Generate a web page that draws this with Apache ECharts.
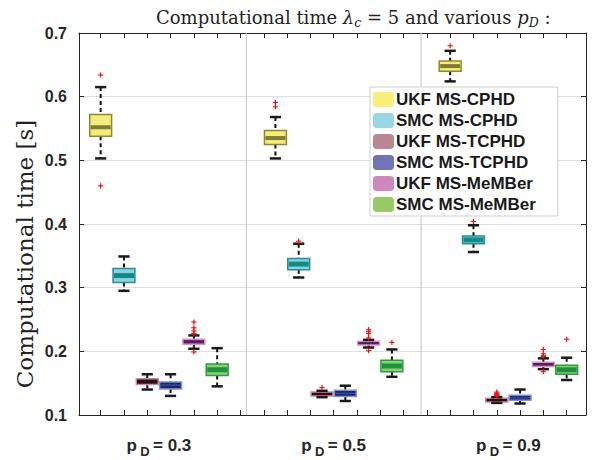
<!DOCTYPE html>
<html>
<head>
<meta charset="utf-8">
<script src="https://cdn.jsdelivr.net/npm/echarts@6/dist/echarts.min.js"></script>
<style>html,body{margin:0;padding:0;background:#fff;}#c{width:597px;height:460px;}</style>
</head>
<body>
<div id="c"></div>
<script>
// ---- data ----
const groupLabels = ['0.3', '0.5', '0.9'];
const methods = ['UKF MS-CPHD', 'SMC MS-CPHD', 'UKF MS-TCPHD', 'SMC MS-TCPHD', 'UKF MS-MeMBer', 'SMC MS-MeMBer'];
// each box: [lowerWhisker, q1, median, q3, upperWhisker], one per p_D group
const ukfCphd   = [[0.503, 0.538, 0.552, 0.572, 0.615], [0.503, 0.525, 0.535, 0.547, 0.568], [0.624, 0.640, 0.648, 0.656, 0.672]];
const smcCphd   = [[0.295, 0.308, 0.319, 0.330, 0.349], [0.316, 0.328, 0.337, 0.346, 0.369], [0.356, 0.369, 0.375, 0.381, 0.398]];
const ukfTcphd  = [[0.140, 0.148, 0.152, 0.157, 0.164], [0.128, 0.130, 0.133, 0.136, 0.138], [0.119, 0.1205, 0.1235, 0.1265, 0.128]];
const smcTcphd  = [[0.130, 0.141, 0.147, 0.152, 0.164], [0.122, 0.129, 0.134, 0.139, 0.146], [0.118, 0.123, 0.127, 0.131, 0.140]];
const ukfMember = [[0.204, 0.211, 0.215, 0.219, 0.225], [0.206, 0.210, 0.213, 0.216, 0.218], [0.172, 0.176, 0.180, 0.183, 0.189]];
const smcMember = [[0.145, 0.162, 0.171, 0.180, 0.205], [0.160, 0.168, 0.177, 0.186, 0.203], [0.155, 0.164, 0.171, 0.178, 0.190]];
// outliers per method, per group
const ukfCphdOut   = [[0.634, 0.460], [0.591, 0.584], [0.680]];
const smcCphdOut   = [[], [0.373], [0.404]];
const ukfTcphdOut  = [[], [0.143], [0.136, 0.134, 0.133, 0.132, 0.131, 0.130]];
const smcTcphdOut  = [[], [], []];
const ukfMemberOut = [[0.246, 0.237, 0.232, 0.228, 0.199], [0.234, 0.231, 0.228, 0.221, 0.201], [0.203, 0.196, 0.193, 0.192, 0.168]];
const smcMemberOut = [[], [0.214], [0.219]];
const yTicks = [0.1, 0.2, 0.3, 0.4, 0.5, 0.6, 0.7];

// ---- styles / layout ----
const boxes = [ukfCphd, smcCphd, ukfTcphd, smcTcphd, ukfMember, smcMember];
const outs = [ukfCphdOut, smcCphdOut, ukfTcphdOut, smcTcphdOut, ukfMemberOut, smcMemberOut];
const legendColors = ['#f8f07a', '#98d8e4', '#bb8793', '#7272b6', '#cd88bc', '#97c966'];
const boxStyles = [
  {fill: '#f4ec7e', border: '#8c8a2c', band: '#7e7c35', bw: 4},
  {fill: '#8ed2de', border: '#2a8d92', band: '#118a8c', bw: 5},
  {fill: '#2e0f1b', border: '#c38b99', band: '#2a0c17', bw: 2},
  {fill: '#1b2470', border: '#8593cc', band: '#4a5aa8', bw: 1},
  {fill: '#6b2773', border: '#d592c6', band: '#5a1f60', bw: 2},
  {fill: '#92d06e', border: '#2b9a4e', band: '#1b9142', bw: 5}
];
const groupStart = [1, 8.5, 16];
const BOX_W = 0.94, CAP_W = 0.48;
const ink = '#262626';
const serif = '"DejaVu Serif", "Liberation Serif", serif';
const sans = '"Liberation Sans", Arial, Helvetica, sans-serif';

const chart = echarts.init(document.getElementById('c'), null, {renderer: 'svg'});

function boxRender(mi) {
  const st = boxStyles[mi];
  return function (params, api) {
    const x = api.value(0);
    const lo = api.value(1), q1 = api.value(2), md = api.value(3), q3 = api.value(4), hi = api.value(5);
    const cx = api.coord([x, md])[0];
    const hw = api.size([BOX_W, 0])[0] / 2;
    const cw = api.size([CAP_W, 0])[0] / 2;
    const yLo = api.coord([x, lo])[1], yQ1 = api.coord([x, q1])[1], yMd = api.coord([x, md])[1];
    const yQ3 = api.coord([x, q3])[1], yHi = api.coord([x, hi])[1];
    const dash = {stroke: '#111', lineWidth: 2, lineDash: [4, 3]};
    const cap = {stroke: '#1a1a1a', lineWidth: 2.5};
    const bTop = Math.max(yQ3, yMd - st.bw / 2), bBot = Math.min(yQ1, yMd + st.bw / 2);
    return {type: 'group', children: [
      {type: 'line', shape: {x1: cx, y1: yHi, x2: cx, y2: yQ3}, style: dash},
      {type: 'line', shape: {x1: cx, y1: yQ1, x2: cx, y2: yLo}, style: dash},
      {type: 'rect', shape: {x: cx - hw, y: yQ3, width: hw * 2, height: yQ1 - yQ3},
        style: {fill: st.fill, stroke: st.border, lineWidth: 1.5}},
      {type: 'rect', shape: {x: cx - hw + 1, y: bTop, width: hw * 2 - 2, height: Math.max(bBot - bTop, 0.8)},
        style: {fill: st.band}},
      {type: 'line', shape: {x1: cx - cw, y1: yHi, x2: cx + cw, y2: yHi}, style: cap},
      {type: 'line', shape: {x1: cx - cw, y1: yLo, x2: cx + cw, y2: yLo}, style: cap}
    ]};
  };
}

function outlierRender(params, api) {
  const p = api.coord([api.value(0), api.value(1)]);
  const s = 2.6;
  const st = {stroke: '#f01414', lineWidth: 1.2};
  return {type: 'group', children: [
    {type: 'line', shape: {x1: p[0] - s, y1: p[1], x2: p[0] + s, y2: p[1]}, style: st},
    {type: 'line', shape: {x1: p[0], y1: p[1] - s, x2: p[0], y2: p[1] + s}, style: st}
  ]};
}

const series = [];
// group separators
series.push({
  type: 'custom', name: 'sep', silent: true, z: 1,
  data: [[(groupStart[0] + 5 + groupStart[1]) / 2], [(groupStart[1] + 5 + groupStart[2]) / 2]],
  renderItem: function (params, api) {
    const cs = params.coordSys;
    const x = api.coord([api.value(0), 0.4])[0];
    return {type: 'line', shape: {x1: x, y1: cs.y, x2: x, y2: cs.y + cs.height}, style: {stroke: '#c4c4c4', lineWidth: 1}};
  }
});
methods.forEach(function (name, mi) {
  series.push({
    type: 'custom', name: name, z: 3,
    itemStyle: {color: legendColors[mi]},
    renderItem: boxRender(mi),
    encode: {x: 0, y: [1, 2, 3, 4, 5]},
    data: boxes[mi].map(function (b, g) { return [groupStart[g] + mi].concat(b); })
  });
  const od = [];
  outs[mi].forEach(function (arr, g) { arr.forEach(function (v) { od.push([groupStart[g] + mi, v]); }); });
  series.push({
    type: 'custom', name: name + ' outliers', z: 4, silent: true,
    renderItem: outlierRender, encode: {x: 0, y: 1}, data: od
  });
});

const tickVals = [];
for (let i = 1; i <= 21; i++) tickVals.push(i);
const labelVals = groupStart.map(function (s) { return s + 2.5; });

chart.setOption({
  animation: false,
  backgroundColor: '#fff',
  title: {
    left: 151, top: 0,
    text: '{a|Computational time }{i|λ}{s|c}{a| = 5 and various }{i|p}{s|D}{a| :}',
    textStyle: {
      fontWeight: 'normal',
      rich: {
        a: {fontFamily: serif, fontSize: 18, fontWeight: 'normal', color: '#222', lineHeight: 24, verticalAlign: 'middle'},
        i: {fontFamily: serif, fontSize: 18, fontWeight: 'normal', fontStyle: 'italic', color: '#222', lineHeight: 24, verticalAlign: 'middle'},
        s: {fontFamily: serif, fontSize: 12.5, fontWeight: 'normal', fontStyle: 'italic', color: '#222', lineHeight: 12, verticalAlign: 'bottom'}
      }
    }
  },
  legend: {
    orient: 'vertical', left: 370, top: 87,
    data: methods.map(function (m, i) { return {name: m, itemStyle: {color: legendColors[i]}}; }),
    itemWidth: 21, itemHeight: 15, itemGap: 4,
    padding: [4, 22, 3, 3],
    backgroundColor: '#ffffff', borderColor: '#cfcfcf', borderWidth: 1, borderRadius: 0,
    selectedMode: false,
    textStyle: {fontFamily: sans, fontWeight: 'bold', fontSize: 17, color: '#1a1a1a', padding: [0, 0, 0, -3]}
  },
  grid: {left: 79, right: 11, top: 33, bottom: 45, containLabel: false},
  graphic: [{
    type: 'text', x: 25, y: 254, rotation: Math.PI / 2, silent: true,
    style: {text: 'Computational time [s]', fontFamily: serif, fontSize: 23, fill: '#222',
      textAlign: 'center', textVerticalAlign: 'middle'}
  }],
  xAxis: [
    {
      type: 'value', min: 0.07, max: 21.83, position: 'bottom',
      axisLine: {show: true, lineStyle: {color: ink, width: 1}},
      axisTick: {show: true, inside: true, length: 5, customValues: tickVals, lineStyle: {color: ink}},
      splitLine: {show: false},
      axisLabel: {
        show: true, customValues: labelVals, margin: 17,
        formatter: function (v) {
          const g = labelVals.findIndex(function (l) { return Math.abs(l - v) < 1e-6; });
          return '{p|p} {d|D} {n|= ' + groupLabels[g] + '}';
        },
        rich: {
          p: {fontFamily: sans, fontWeight: 'bold', fontSize: 17, color: ink, lineHeight: 26, verticalAlign: 'middle'},
          n: {fontFamily: sans, fontWeight: 'bold', fontSize: 17, color: ink, lineHeight: 26, verticalAlign: 'middle'},
          d: {fontFamily: sans, fontWeight: 'bold', fontSize: 13, color: ink, lineHeight: 14, verticalAlign: 'bottom'}
        }
      }
    },
    {
      type: 'value', min: 0.07, max: 21.83, position: 'top',
      axisLine: {show: true, lineStyle: {color: ink, width: 1}},
      axisTick: {show: true, inside: true, length: 5, customValues: tickVals, lineStyle: {color: ink}},
      axisLabel: {show: false}, splitLine: {show: false}
    }
  ],
  yAxis: [
    {
      type: 'value', min: yTicks[0], max: yTicks[yTicks.length - 1], interval: 0.1, position: 'left',
      axisLine: {show: true, lineStyle: {color: ink, width: 1}},
      axisTick: {show: true, inside: true, length: 5, lineStyle: {color: ink}},
      axisLabel: {fontFamily: sans, fontWeight: 'bold', fontSize: 16, color: ink, margin: 12,
        formatter: function (v) { return v.toFixed(1); }},
      splitLine: {show: true, lineStyle: {color: '#dedede', width: 1}}
    },
    {
      type: 'value', min: yTicks[0], max: yTicks[yTicks.length - 1], interval: 0.1, position: 'right',
      axisLine: {show: true, lineStyle: {color: ink, width: 1}},
      axisTick: {show: true, inside: true, length: 5, lineStyle: {color: ink}},
      axisLabel: {show: false}, splitLine: {show: false}
    }
  ],
  series: series
});
</script>
</body>
</html>
